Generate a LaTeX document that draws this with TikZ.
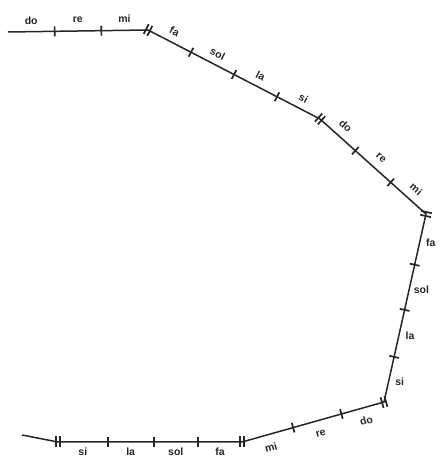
\documentclass[tikz,border=0pt]{standalone}
\usepackage{fontspec}
\newfontfamily\labfont{Liberation Sans}
\usetikzlibrary{calc}
\newcommand\tk[3]{\draw[tickline] ($(#1)!#3!(#2)!5pt!90:(#2)$) -- ($(#1)!#3!(#2)!5pt!-90:(#2)$);}
\newcommand\dtk[2]{\foreach \s in {-2,2}{\draw[tickline] ($(#1)!\s pt!(#2)!5.5pt!90:(#2)$) -- ($(#1)!\s pt!(#2)!5.5pt!-90:(#2)$);}}
\newcommand\lb[7]{\node[lab, rotate=#5] (#7) at ($(#1)!#3!(#2)!#4pt!90:(#2)$) {#6};}
\begin{document}
\begin{tikzpicture}[x=1pt,y=1pt,
  seg/.style={line width=1.5pt, draw=black!85},
  tickline/.style={line width=1.7pt, draw=black!85},
  lab/.style={font=\labfont\bfseries\fontsize{10.5}{10.5}\selectfont, inner sep=0pt, text=black!85}]
\useasboundingbox (0,0) rectangle (443,474);
\coordinate (S0) at (8,442);
\coordinate (J1) at (148,444);
\coordinate (J2) at (320,355);
\coordinate (J3) at (426,260);
\coordinate (J4) at (384,72);
\coordinate (J5) at (242,32);
\coordinate (J6) at (58,32);
\coordinate (E0) at (22,39);
\draw[seg] (S0) -- (J1) -- (J2) -- (J3) -- (J4) -- (J5) -- (J6) -- (E0);
% single ticks
\tk{S0}{J1}{0.3333}\tk{S0}{J1}{0.6667}
\tk{J1}{J2}{0.25}\tk{J1}{J2}{0.5}\tk{J1}{J2}{0.75}
\tk{J2}{J3}{0.3333}\tk{J2}{J3}{0.6667}
\tk{J3}{J4}{0.27}\tk{J3}{J4}{0.51}\tk{J3}{J4}{0.76}
\tk{J4}{J5}{0.3}\tk{J4}{J5}{0.64}
\tk{J5}{J6}{0.24}\tk{J5}{J6}{0.48}\tk{J5}{J6}{0.73}
% double ticks
\dtk{J1}{J2}\dtk{J2}{J3}\dtk{J3}{J4}\dtk{J4}{J5}\dtk{J5}{J6}\dtk{J6}{J5}
% labels
\lb{S0}{J1}{0.1667}{11}{0}{do}{l1}
\lb{S0}{J1}{0.5}{11}{0}{re}{l2}
\lb{S0}{J1}{0.8333}{12}{0}{mi}{l3}
\lb{J1}{J2}{0.125}{11}{-27}{fa}{l4}
\lb{J1}{J2}{0.375}{11}{-27}{sol}{l5}
\lb{J1}{J2}{0.625}{11}{-27}{la}{l6}
\lb{J1}{J2}{0.875}{11}{-27}{si}{l7}
\lb{J2}{J3}{0.1667}{12}{-42}{do}{l8}
\lb{J2}{J3}{0.5}{12}{-42}{re}{l9}
\lb{J2}{J3}{0.8333}{12}{-42}{mi}{l10}
\lb{J3}{J4}{0.14}{11}{0}{fa}{l11}
\lb{J3}{J4}{0.39}{12}{0}{sol}{l12}
\lb{J3}{J4}{0.635}{11}{0}{la}{l13}
\lb{J3}{J4}{0.88}{11}{0}{si}{l14}
\lb{J4}{J5}{0.15}{13}{16}{do}{l15}
\lb{J4}{J5}{0.47}{13}{16}{re}{l16}
\lb{J4}{J5}{0.82}{13}{16}{mi}{l17}
\lb{J5}{J6}{0.12}{10}{0}{fa}{l18}
\lb{J5}{J6}{0.36}{10}{0}{sol}{l19}
\lb{J5}{J6}{0.605}{10}{0}{la}{l20}
\lb{J5}{J6}{0.865}{10}{0}{si}{l21}
\end{tikzpicture}
\end{document}
